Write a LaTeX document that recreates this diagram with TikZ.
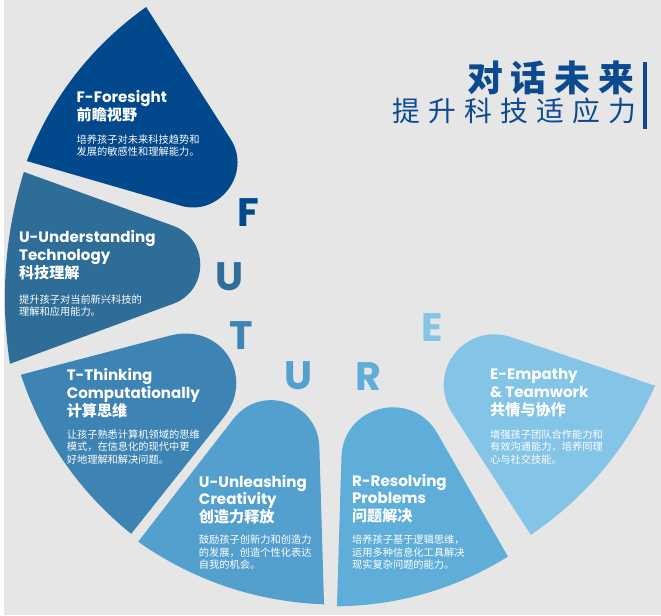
\documentclass[tikz,border=0pt]{standalone}
\usepackage{fontspec}
\usetikzlibrary{calc}
\newfontfamily\cjk{Noto Sans CJK SC}
\newfontfamily\cjkA{Noto Sans CJK SC}[LetterSpace=22]
\newfontfamily\cjkB{Noto Sans CJK SC}[LetterSpace=29]
\newfontfamily\lat{Poppins}
\newcommand\tightlines{\lineskiplimit -20pt\relax}
\definecolor{bg}{HTML}{E6E6E6}
\definecolor{cF}{HTML}{02488C}
\definecolor{cU}{HTML}{2E6D98}
\definecolor{cT}{HTML}{3D84B4}
\definecolor{cUU}{HTML}{539FCD}
\definecolor{cR}{HTML}{5FADD9}
\definecolor{cE}{HTML}{84C4E6}
\definecolor{ttl}{HTML}{0B4A90}
% #1 colour, #2 outer corner A, #3 outer corner B, #4 apex, #5 tangent distance, #6 bulge, #7 control fraction
\newcommand\mypetal[7]{%
  \fill[#1] (#2) .. controls ($(#2)!1/3!(#3)!#6!90:(#3)$) and ($(#2)!2/3!(#3)!#6!90:(#3)$) .. (#3)
    -- ($(#4)!#5!(#3)$) .. controls ($(#4)!#7*#5!(#3)$) and ($(#4)!#7*#5!(#2)$) .. ($(#4)!#5!(#2)$) -- cycle;}
\tikzset{
  head/.style={anchor=base west, align=left, inner sep=0pt, text=white, font=\lat\bfseries\fontsize{15.2}{18}\selectfont\tightlines},
  desc/.style={anchor=base west, align=left, inner sep=0pt, text=white, font=\cjk\fontsize{10.3}{12.7}\selectfont\tightlines},
  letter/.style={anchor=base, inner sep=0pt, font=\lat\bfseries\fontsize{40}{40}\selectfont},
}
\begin{document}
\begin{tikzpicture}[x=1pt,y=-1pt]
\fill[bg] (0,0) rectangle (661,619);
% petals
\mypetal{cF}{23,162}{143,7}{292,240}{118.7pt}{19.5pt}{0.66}
\mypetal{cU}{6,366}{20,173}{278,266}{115pt}{14.7pt}{0.66}
\mypetal{cT}{128,537}{17,377}{318,298}{156pt}{19pt}{0.66}
\mypetal{cUU}{322,608}{135,545}{313.3,315}{135pt}{19.3pt}{0.66}
\mypetal{cR}{507,560}{335,610}{345,277}{183pt}{16.5pt}{0.715}
\mypetal{cE}{655,388}{530,538}{371,292}{148pt}{18.7pt}{0.66}
% title
\node[anchor=base east, inner sep=0pt, text=ttl, font=\cjkA\bfseries\fontsize{36}{36}\selectfont] (t1) at (634,92) {对话未来};
\node[anchor=base east, inner sep=0pt, text=ttl, font=\cjkB\fontsize{28}{28}\selectfont] (t2) at (636,122) {提升科技适应力};
\fill[ttl] (643,62) rectangle (647,130);
% big letters
\node[letter, text=cF] (lF) at (245.5,228) {F};
\node[letter, text=cU] (lU) at (226.5,292) {U};
\node[letter, text=cT] (lT) at (239,352) {T};
\node[letter, text=cUU] (lU2) at (296,392) {U};
\node[letter, text=cR] (lR) at (366.5,393) {R};
\node[letter, text=cE] (lE) at (431,344) {E};
% F
\node[head] (hF) at (73,121) {F-Foresight\\{\cjk\bfseries 前瞻视野}};
\node[desc] (dF) at (73,156.7) {培养孩子对未来科技趋势和\\发展的敏感性和理解能力。};
% U
\node[head] (hU) at (15,280) {U-Understanding\\Technology\\{\cjk\bfseries 科技理解}};
\node[desc] (dU) at (15,317.7) {提升孩子对当前新兴科技的\\理解和应用能力。};
% T
\node[head] (hT) at (63,419) {T-Thinking\\Computationally\\{\cjk\bfseries 计算思维}};
\node[desc] (dT) at (63,466.4) {让孩子熟悉计算机领域的思维\\模式，在信息化的现代中更\\好地理解和解决问题。};
% U2
\node[head] (hU2) at (196,526) {U-Unleashing\\Creativity\\{\cjk\bfseries 创造力释放}};
\node[desc] (dU2) at (196,572.4) {鼓励孩子创新力和创造力\\的发展，创造个性化表达\\自我的机会。};
% R
\node[head] (hR) at (350,525) {R-Resolving\\Problems\\{\cjk\bfseries 问题解决}};
\node[desc] (dR) at (350,572.4) {培养孩子基于逻辑思维，\\运用多种信息化工具解决\\现实复杂问题的能力。};
% E
\node[head] (hE) at (489,418) {E-Empathy\\\& Teamwork\\{\cjk\bfseries 共情与协作}};
\node[desc] (dE) at (489,466.4) {增强孩子团队合作能力和\\有效沟通能力，培养同理\\心与社交技能。};
\end{tikzpicture}
\end{document}
